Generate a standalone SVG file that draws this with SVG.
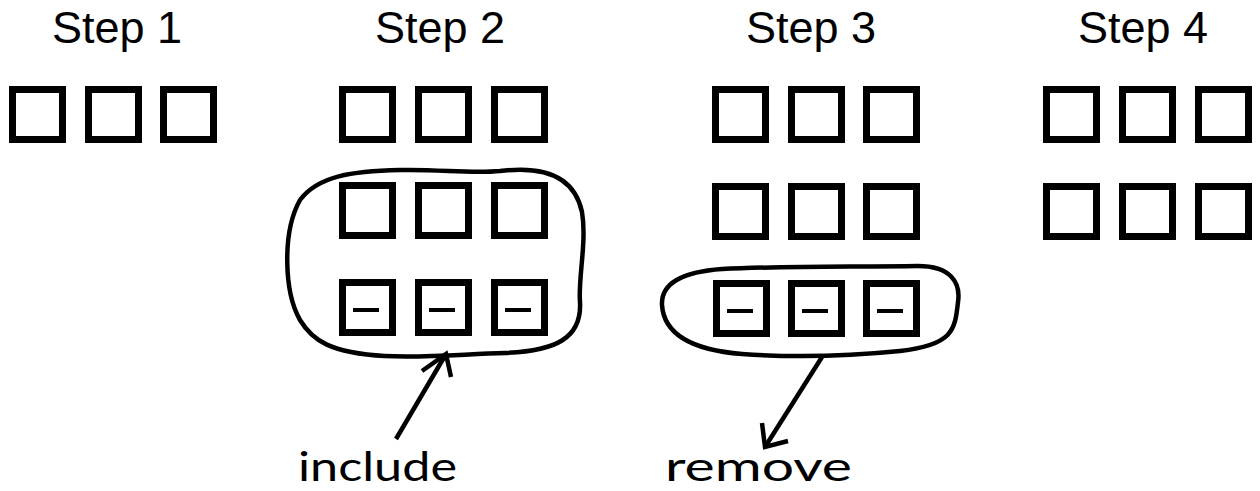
<svg xmlns="http://www.w3.org/2000/svg" width="1260" height="491" viewBox="0 0 1260 491">
  <defs>
    <style>
      .title { font-family: "Liberation Sans", Arial, sans-serif; font-size: 45px; fill: #000; text-anchor: middle; }
      .hand { font-family: Lato, "Open Sans", sans-serif; font-size: 40px; fill: #000; }
      .box { fill: #fff; stroke: #000; stroke-width: 7; }
      .minus { stroke: #000; stroke-width: 4; }
      .blob { fill: none; stroke: #000; stroke-width: 4.5; stroke-linejoin: round; }
      .arrow { fill: none; stroke: #000; stroke-width: 4.5; stroke-linecap: butt; stroke-linejoin: miter; }
      .back { fill: #fff; }
    </style>
    <!-- one square cell, outer size 57 -->
    <rect id="cell" class="box" x="3.5" y="3.5" width="50" height="50"/>
    <g id="cellMinus">
      <use href="#cell"/>
      <line class="minus" x1="14" y1="31" x2="40" y2="31"/>
    </g>
  </defs>

  <rect class="back" x="0" y="0" width="1260" height="491"/>

  <!-- Step 1 -->
  <g id="step1">
    <text class="title" x="117" y="43">Step 1</text>
    <use href="#cell" x="9" y="86"/>
    <use href="#cell" x="85" y="86"/>
    <use href="#cell" x="160" y="86"/>
  </g>

  <!-- Step 2 -->
  <g id="step2">
    <text class="title" x="440" y="43">Step 2</text>
    <use href="#cell" x="339" y="86"/>
    <use href="#cell" x="415" y="86"/>
    <use href="#cell" x="491" y="86"/>
    <use href="#cell" x="339" y="182"/>
    <use href="#cell" x="415" y="182"/>
    <use href="#cell" x="491" y="182"/>
    <use href="#cellMinus" x="339" y="279"/>
    <use href="#cellMinus" x="415" y="279"/>
    <use href="#cellMinus" x="491" y="279"/>
  </g>

  <!-- Step 3 -->
  <g id="step3">
    <text class="title" x="811" y="43">Step 3</text>
    <use href="#cell" x="712" y="86"/>
    <use href="#cell" x="788" y="86"/>
    <use href="#cell" x="863" y="86"/>
    <use href="#cell" x="712" y="183"/>
    <use href="#cell" x="788" y="183"/>
    <use href="#cell" x="863" y="183"/>
    <use href="#cellMinus" x="713" y="280"/>
    <use href="#cellMinus" x="788" y="280"/>
    <use href="#cellMinus" x="863" y="280"/>
  </g>

  <!-- Step 4 -->
  <g id="step4">
    <text class="title" x="1143" y="43">Step 4</text>
    <use href="#cell" x="1043" y="86"/>
    <use href="#cell" x="1119" y="86"/>
    <use href="#cell" x="1195" y="86"/>
    <use href="#cell" x="1043" y="183"/>
    <use href="#cell" x="1119" y="183"/>
    <use href="#cell" x="1195" y="183"/>
  </g>

  <!-- hand-drawn loops, arrows and notes -->
  <g id="connectors">
    <path class="blob" d="M 300,200 C 318,176 352,171 400,170 C 440,169 470,174 500,171 C 540,166 574,174 582,212 C 587,242 578,278 580,302 C 582,338 556,351 505,353 C 465,354 425,358 385,356 C 330,353 312,340 300,320 C 284,292 282,232 300,200 Z"/>
    <path class="blob" d="M 662,305 C 661,285 680,272 722,269 C 780,266 850,267 918,266 C 950,266 961,282 958,302 C 955,330 953,345 900,351 C 860,355 800,358 742,354 C 692,350 664,335 662,305 Z"/>

    <g id="includeArrow">
      <line class="arrow" x1="396" y1="439" x2="446" y2="354"/>
      <polyline class="arrow" points="422,371 446,354 451,377"/>
    </g>
    <g id="removeArrow">
      <line class="arrow" x1="822" y1="357" x2="765" y2="447"/>
      <polyline class="arrow" points="762,423 765,447 788,441"/>
    </g>
  </g>

  <g id="labels">
    <text class="hand" x="298" y="481" textLength="159" lengthAdjust="spacingAndGlyphs">include</text>
    <text class="hand" x="665" y="481" textLength="187" lengthAdjust="spacingAndGlyphs">remove</text>
  </g>
</svg>
